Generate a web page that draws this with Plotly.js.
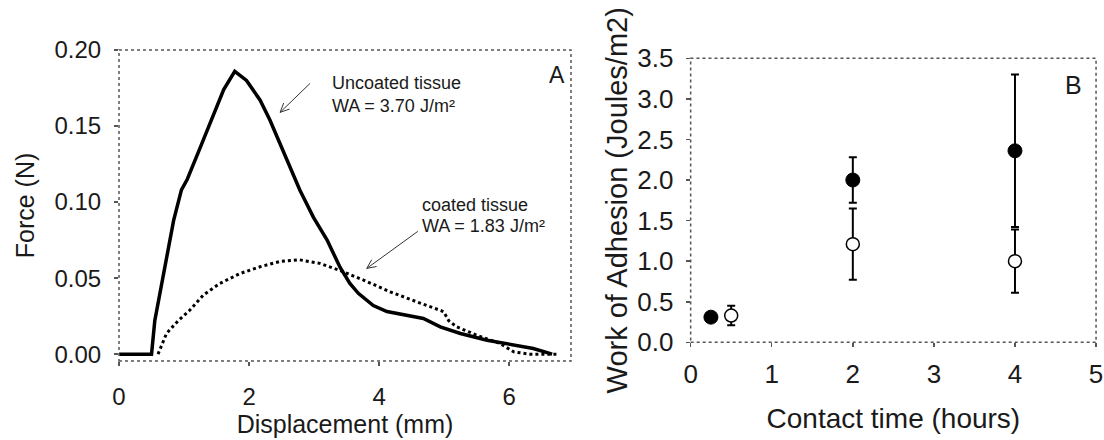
<!DOCTYPE html>
<html>
<head>
<meta charset="utf-8">
<script src="https://cdn.plot.ly/plotly-3.0.1.min.js"></script>
<style>html,body{margin:0;padding:0;background:#fff;}#chart{width:1104px;height:440px;}</style>
</head>
<body>
<div id="chart"></div>
<script>
// Panel A: force vs displacement
const uncoatedX = [0, 0.5, 0.55, 0.66, 0.76, 0.84, 0.96, 1.05, 1.25, 1.45, 1.61, 1.78, 1.96, 2.17, 2.32, 2.58, 2.78, 2.99, 3.20, 3.40, 3.55, 3.68, 3.91, 4.12, 4.43, 4.68, 4.94, 5.25, 5.66, 6.12, 6.37, 6.66];
const uncoatedY = [0, 0, 0.022, 0.0465, 0.070, 0.088, 0.108, 0.115, 0.136, 0.158, 0.174, 0.186, 0.180, 0.167, 0.154, 0.128, 0.108, 0.090, 0.075, 0.057, 0.0465, 0.040, 0.032, 0.028, 0.0257, 0.0235, 0.018, 0.0136, 0.0092, 0.006, 0.0037, 0.0];
const coatedX = [0.6, 0.73, 0.91, 1.09, 1.30, 1.55, 1.86, 2.17, 2.48, 2.78, 3.09, 3.40, 3.76, 4.17, 4.58, 4.99, 5.07, 5.19, 5.50, 5.86, 6.07, 6.32, 6.76];
const coatedY = [0, 0.0136, 0.022, 0.029, 0.039, 0.0465, 0.053, 0.0575, 0.061, 0.062, 0.0597, 0.055, 0.0487, 0.041, 0.0344, 0.028, 0.022, 0.018, 0.0125, 0.007, 0.0015, 0, 0];
const forceTicks = [0, 0.05, 0.10, 0.15, 0.20];
const dispTicks = [0, 2, 4, 6];

// Panel B: work of adhesion vs contact time
const timeFilled = [0.25, 2, 4];
const workFilled = [0.31, 2.0, 2.36];
const errFilled = [0, 0.28, 0.94];
const timeOpen = [0.5, 2, 4];
const workOpen = [0.33, 1.21, 1.0];
const errOpen = [0.12, 0.44, 0.39];
const workTicks = [0, 0.5, 1.0, 1.5, 2.0, 2.5, 3.0, 3.5];
const timeTicks = [0, 1, 2, 3, 4, 5];

const FONT = 'Liberation Sans, Arial, sans-serif';
const TXT = '#1a1a1a';
const FRAME = '#555';

const traces = [
  {x: uncoatedX, y: uncoatedY, xaxis: 'x', yaxis: 'y', mode: 'lines', line: {color: '#000', width: 3.5}, showlegend: false, hoverinfo: 'skip'},
  {x: coatedX, y: coatedY, xaxis: 'x', yaxis: 'y', mode: 'lines', line: {color: '#000', width: 3, dash: 'dot'}, showlegend: false, hoverinfo: 'skip'},
  {x: timeOpen, y: workOpen, xaxis: 'x2', yaxis: 'y2', mode: 'markers',
   marker: {size: 13, color: '#fff', line: {color: '#000', width: 1.5}},
   error_y: {type: 'data', array: errOpen, visible: true, color: '#000', thickness: 2, width: 4},
   showlegend: false},
  {x: timeFilled, y: workFilled, xaxis: 'x2', yaxis: 'y2', mode: 'markers',
   marker: {size: 14, color: '#000', line: {color: '#000', width: 1}},
   error_y: {type: 'data', array: errFilled, visible: true, color: '#000', thickness: 2, width: 4},
   showlegend: false}
];

const axBase = {showgrid: false, zeroline: false, showline: false, ticks: 'outside', ticklen: 4, tickcolor: FRAME, tickwidth: 1.5};

const ANN = {family: FONT, size: 18, color: TXT};

const layout = {
  width: 1104, height: 440,
  margin: {l: 0, r: 0, t: 0, b: 0},
  paper_bgcolor: '#fff', plot_bgcolor: '#fff',
  font: {family: FONT, color: TXT},
  xaxis: Object.assign({}, axBase, {domain: [0.1078, 0.5172], range: [0, 6.95], tickvals: dispTicks, ticktext: dispTicks.map(String),
    tickfont: {family: FONT, size: 24, color: TXT}, ticklabelstandoff: 10,
    title: {text: 'Displacement (mm)', font: {family: FONT, size: 25, color: TXT}, standoff: 1}, anchor: 'y'}),
  yaxis: Object.assign({}, axBase, {domain: [0.1795, 0.8864], range: [-0.0045, 0.2], tickvals: forceTicks, ticktext: forceTicks.map(v => v.toFixed(2)),
    tickfont: {family: FONT, size: 24, color: TXT}, ticklabelstandoff: 8,
    title: {text: 'Force (N)', font: {family: FONT, size: 25, color: TXT}, standoff: 12}, anchor: 'x'}),
  xaxis2: Object.assign({}, axBase, {domain: [0.6256, 0.9928], range: [0, 5], tickvals: timeTicks, ticktext: timeTicks.map(String),
    tickfont: {family: FONT, size: 26, color: TXT}, ticklabelstandoff: 4,
    title: {text: 'Contact time (hours)', font: {family: FONT, size: 28, color: TXT}, standoff: 20}, anchor: 'y2'}),
  yaxis2: Object.assign({}, axBase, {domain: [0.2220, 0.8675], range: [0, 3.5], tickvals: workTicks, ticktext: workTicks.map(v => v.toFixed(1)),
    tickfont: {family: FONT, size: 26, color: TXT}, ticklabelstandoff: 7,
    title: {text: 'Work of Adhesion (Joules/m2)', font: {family: FONT, size: 29, color: TXT}, standoff: 1}, anchor: 'x2'}),
  shapes: [
    {type: 'rect', xref: 'x domain', yref: 'y domain', x0: 0, x1: 1, y0: 0, y1: 1, line: {color: FRAME, width: 1.5, dash: 'dot'}},
    {type: 'rect', xref: 'x2 domain', yref: 'y2 domain', x0: 0, x1: 1, y0: 0, y1: 1, line: {color: FRAME, width: 1.5, dash: 'dot'}},
    {type: 'path', xref: 'x', yref: 'y', xsizemode: 'pixel', ysizemode: 'pixel', xanchor: 2.477, yanchor: 0.159,
     path: 'M 30 29 L 0 0 M 3.6 9.3 L 0 0 L 9.5 3.3', line: {color: '#333', width: 1}},
    {type: 'path', xref: 'x', yref: 'y', xsizemode: 'pixel', ysizemode: 'pixel', xanchor: 3.81, yanchor: 0.0564,
     path: 'M 51 37 L 0 0 M 4.9 8.7 L 0 0 L 9.8 1.9', line: {color: '#333', width: 1}}
  ],
  annotations: [
    {xref: 'x', yref: 'y', x: 3.246, y: 0.178, xanchor: 'left', yanchor: 'middle', text: 'Uncoated tissue', showarrow: false, font: ANN},
    {xref: 'x', yref: 'y', x: 3.246, y: 0.163, xanchor: 'left', yanchor: 'middle', text: 'WA = 3.70 J/m²', showarrow: false, font: ANN},
    {xref: 'x', yref: 'y', x: 4.63, y: 0.098, xanchor: 'left', yanchor: 'middle', text: 'coated tissue', showarrow: false, font: ANN},
    {xref: 'x', yref: 'y', x: 4.63, y: 0.084, xanchor: 'left', yanchor: 'middle', text: 'WA = 1.83 J/m²', showarrow: false, font: ANN},
    {xref: 'x domain', yref: 'y domain', x: 0.968, y: 0.92, xanchor: 'center', yanchor: 'middle', text: 'A', showarrow: false, font: {family: FONT, size: 23, color: TXT}},
    {xref: 'x2 domain', yref: 'y2 domain', x: 0.945, y: 0.905, xanchor: 'center', yanchor: 'middle', text: 'B', showarrow: false, font: {family: FONT, size: 25, color: TXT}}
  ]
};

Plotly.newPlot('chart', traces, layout, {staticPlot: true, displayModeBar: false});
</script>
</body>
</html>
